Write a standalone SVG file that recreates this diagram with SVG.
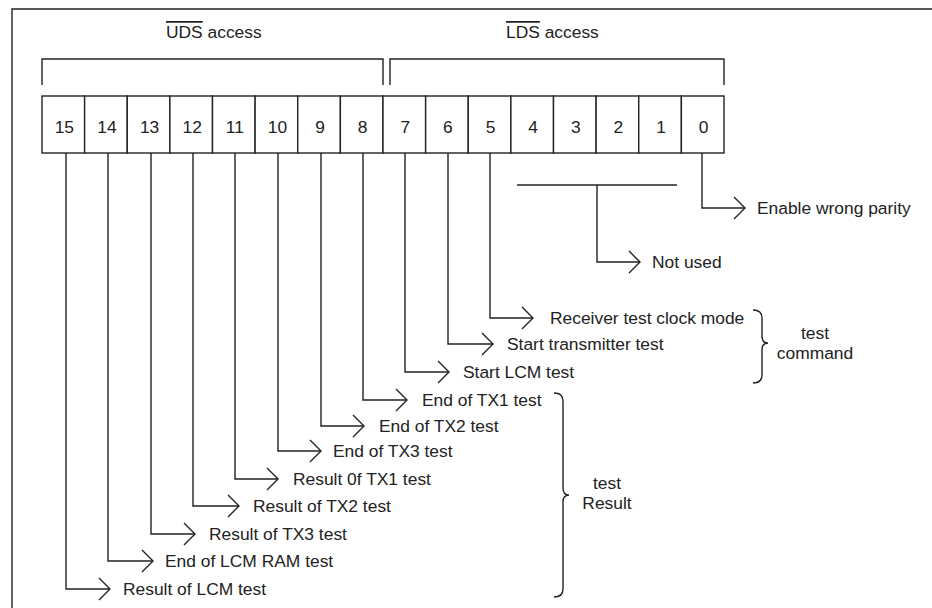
<svg xmlns="http://www.w3.org/2000/svg" width="932" height="608" viewBox="0 0 932 608">
<style>
.ln{fill:none;stroke:#222;stroke-width:1.4}
.cell{fill:#fff;stroke:#222;stroke-width:1.4}
text{font-family:"Liberation Sans",Arial,sans-serif;font-size:17.4px;fill:#222}
.d{text-anchor:middle}
.ov{text-decoration:overline}
</style>
<defs>
<marker id="chev" markerUnits="userSpaceOnUse" markerWidth="14" markerHeight="26" refX="12" refY="12" orient="auto" viewBox="0 0 14 26">
<path d="M1,1 L12,12 L1,23" fill="none" stroke="#222" stroke-width="1.4"/>
</marker>
</defs>
<rect width="932" height="608" fill="#fff"/>
<g id="frame"><path class="ln" d="M12,608 V9 H932"/></g>
<g id="uds-label"><text x="166" y="38"><tspan class="ov">UDS</tspan> access</text></g>
<g id="lds-label"><text x="506" y="38"><tspan class="ov">LDS</tspan> access</text></g>
<g id="register">
<g id="bit15"><rect class="cell" x="42" y="96" width="42.625" height="57"/><text class="d" x="64.3" y="133">15</text></g>
<g id="bit14"><rect class="cell" x="84.625" y="96" width="42.625" height="57"/><text class="d" x="106.9" y="133">14</text></g>
<g id="bit13"><rect class="cell" x="127.25" y="96" width="42.625" height="57"/><text class="d" x="149.6" y="133">13</text></g>
<g id="bit12"><rect class="cell" x="169.875" y="96" width="42.625" height="57"/><text class="d" x="192.2" y="133">12</text></g>
<g id="bit11"><rect class="cell" x="212.5" y="96" width="42.625" height="57"/><text class="d" x="234.8" y="133">11</text></g>
<g id="bit10"><rect class="cell" x="255.125" y="96" width="42.625" height="57"/><text class="d" x="277.4" y="133">10</text></g>
<g id="bit9"><rect class="cell" x="297.75" y="96" width="42.625" height="57"/><text class="d" x="320.1" y="133">9</text></g>
<g id="bit8"><rect class="cell" x="340.375" y="96" width="42.625" height="57"/><text class="d" x="362.7" y="133">8</text></g>
<g id="bit7"><rect class="cell" x="383" y="96" width="42.625" height="57"/><text class="d" x="405.3" y="133">7</text></g>
<g id="bit6"><rect class="cell" x="425.625" y="96" width="42.625" height="57"/><text class="d" x="447.9" y="133">6</text></g>
<g id="bit5"><rect class="cell" x="468.25" y="96" width="42.625" height="57"/><text class="d" x="490.6" y="133">5</text></g>
<g id="bit4"><rect class="cell" x="510.875" y="96" width="42.625" height="57"/><text class="d" x="533.2" y="133">4</text></g>
<g id="bit3"><rect class="cell" x="553.5" y="96" width="42.625" height="57"/><text class="d" x="575.8" y="133">3</text></g>
<g id="bit2"><rect class="cell" x="596.125" y="96" width="42.625" height="57"/><text class="d" x="618.4" y="133">2</text></g>
<g id="bit1"><rect class="cell" x="638.75" y="96" width="42.625" height="57"/><text class="d" x="661.1" y="133">1</text></g>
<g id="bit0"><rect class="cell" x="681.375" y="96" width="42.625" height="57"/><text class="d" x="703.7" y="133">0</text></g>
</g>
<g id="connectors">
<path class="ln" d="M42,85 V59 H383 V85"/>
<path class="ln" d="M390,85 V59 H724 V85"/>
<path class="ln" d="M702,153 V208 H745" marker-end="url(#chev)"/>
<path class="ln" d="M517,185 H677"/>
<path class="ln" d="M597,185 V262 H640" marker-end="url(#chev)"/>
<path class="ln" d="M490,153 V318 H533" marker-end="url(#chev)"/>
<path class="ln" d="M448,153 V344 H493" marker-end="url(#chev)"/>
<path class="ln" d="M405,153 V372 H449" marker-end="url(#chev)"/>
<path class="ln" d="M363,153 V400 H407" marker-end="url(#chev)"/>
<path class="ln" d="M321,153 V426 H364" marker-end="url(#chev)"/>
<path class="ln" d="M278,153 V451 H321" marker-end="url(#chev)"/>
<path class="ln" d="M235,153 V479 H278" marker-end="url(#chev)"/>
<path class="ln" d="M193,153 V506 H239" marker-end="url(#chev)"/>
<path class="ln" d="M151,153 V534 H195" marker-end="url(#chev)"/>
<path class="ln" d="M108,153 V561 H153" marker-end="url(#chev)"/>
<path class="ln" d="M66,153 V589 H110" marker-end="url(#chev)"/>
<path class="ln" d="M753,310 Q762,310 762,318 V336 Q762,343 768,343 Q762,343 762,350 V375 Q762,383 753,383"/>
<path class="ln" d="M554,393 Q563,393 563,401 V488 Q563,495 569,495 Q563,495 563,502 V589 Q563,597 554,597"/>
</g>
<g id="labels">
<g id="lbl-enable"><text x="757" y="214">Enable wrong parity</text></g>
<g id="lbl-notused"><text x="652" y="268">Not used</text></g>
<g id="lbl-b5"><text x="550" y="324">Receiver test clock mode</text></g>
<g id="lbl-b6"><text x="507" y="350">Start transmitter test</text></g>
<g id="lbl-b7"><text x="463" y="378">Start LCM test</text></g>
<g id="lbl-b8"><text x="422" y="406">End of TX1 test</text></g>
<g id="lbl-b9"><text x="379" y="432">End of TX2 test</text></g>
<g id="lbl-b10"><text x="333" y="457">End of TX3 test</text></g>
<g id="lbl-b11"><text x="293" y="485">Result 0f TX1 test</text></g>
<g id="lbl-b12"><text x="253" y="512">Result of TX2 test</text></g>
<g id="lbl-b13"><text x="209" y="540">Result of TX3 test</text></g>
<g id="lbl-b14"><text x="165" y="567">End of LCM RAM test</text></g>
<g id="lbl-b15"><text x="123" y="595">Result of LCM test</text></g>
<g id="lbl-command"><text class="d" x="815" y="339">test</text><text class="d" x="815" y="359">command</text></g>
<g id="lbl-result"><text class="d" x="607" y="489">test</text><text class="d" x="607" y="509">Result</text></g>
</g>
</svg>
